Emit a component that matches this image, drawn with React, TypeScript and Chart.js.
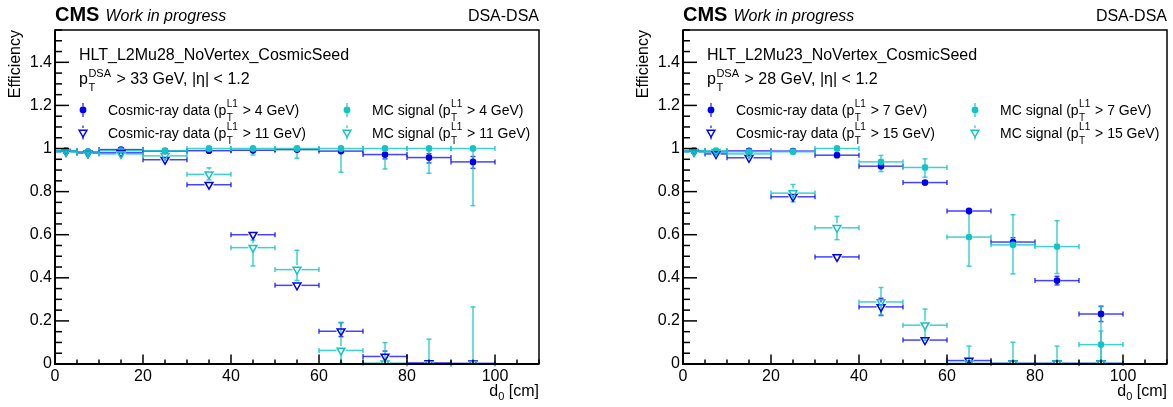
import React, { useEffect, useRef } from "react";
import { Chart, registerables } from "chart.js";

Chart.register(...registerables);

const FONT = "'Liberation Sans', Arial, Helvetica, sans-serif";

// ---------- binning (d0 in cm) ----------
const binCenters = [2.5, 7.5, 15, 25, 35, 45, 55, 65, 75, 85, 95];
const binLow = [0, 5, 10, 20, 30, 40, 50, 60, 70, 80, 90];
const binHigh = [5, 10, 20, 30, 40, 50, 60, 70, 80, 90, 100];

// ---------- ticks ----------
const xTickValues = [0, 20, 40, 60, 80, 100];
const xTickLabels = ["0", "20", "40", "60", "80", "100"];
const yTickValues = [0, 0.2, 0.4, 0.6, 0.8, 1.0, 1.2, 1.4];
const yTickLabels = ["0", "0.2", "0.4", "0.6", "0.8", "1", "1.2", "1.4"];

// ---------- left panel: HLT_L2Mu28 ----------
const leftCosmic4 = [0.99, 0.985, 0.995, 0.988, 0.99, 0.992, 0.995, 0.988, 0.972, 0.958, 0.938];
const leftCosmic4Lo = [0.005, 0.005, 0.005, 0.006, 0.006, 0.008, 0.01, 0.015, 0.02, 0.025, 0.03];
const leftCosmic4Hi = [0.004, 0.005, 0.004, 0.005, 0.005, 0.006, 0.004, 0.008, 0.012, 0.018, 0.025];

const leftMC4 = [0.99, 0.985, 0.99, 0.99, 1.0, 1.0, 1.0, 1.0, 1.0, 1.0, 1.0];
const leftMC4Lo = [0.005, 0.005, 0.005, 0.006, 0.005, 0.03, 0.045, 0.11, 0.095, 0.115, 0.265];
const leftMC4Hi = [0.004, 0.004, 0.004, 0.004, 0, 0, 0, 0, 0, 0, 0];

const leftCosmic11 = [0.985, 0.978, 0.98, 0.948, 0.832, 0.6, 0.365, 0.152, 0.035, 0.005, 0.003];
const leftCosmic11Lo = [0.005, 0.006, 0.006, 0.01, 0.012, 0.015, 0.02, 0.025, 0.015, 0.005, 0.003];
const leftCosmic11Hi = [0.005, 0.006, 0.006, 0.01, 0.012, 0.015, 0.02, 0.04, 0.025, 0.012, 0.01];

const leftMC11 = [0.985, 0.978, 0.975, 0.966, 0.88, 0.54, 0.438, 0.063, 0.004, 0.0, 0.0];
const leftMC11Lo = [0.005, 0.006, 0.006, 0.01, 0.025, 0.085, 0.05, 0.06, 0.004, 0, 0];
const leftMC11Hi = [0.005, 0.006, 0.006, 0.01, 0.03, 0.035, 0.09, 0.13, 0.095, 0.115, 0.265];

// ---------- right panel: HLT_L2Mu23 ----------
const rightCosmic7 = [0.99, 0.985, 0.989, 0.988, 0.969, 0.918, 0.842, 0.71, 0.566, 0.387, 0.232];
const rightCosmic7Lo = [0.005, 0.005, 0.005, 0.006, 0.008, 0.012, 0.012, 0.015, 0.02, 0.02, 0.035];
const rightCosmic7Hi = [0.004, 0.005, 0.005, 0.006, 0.008, 0.012, 0.012, 0.015, 0.02, 0.02, 0.035];

const rightMC7 = [0.99, 0.99, 0.985, 0.985, 1.0, 0.938, 0.912, 0.589, 0.553, 0.545, 0.09];
const rightMC7Lo = [0.005, 0.005, 0.006, 0.006, 0.005, 0.045, 0.045, 0.135, 0.135, 0.125, 0.09];
const rightMC7Hi = [0.004, 0.004, 0.005, 0.005, 0, 0.03, 0.04, 0.12, 0.14, 0.12, 0.18];

const rightCosmic15 = [0.985, 0.975, 0.957, 0.776, 0.497, 0.265, 0.111, 0.016, 0.003, 0.003, 0.003];
const rightCosmic15Lo = [0.005, 0.006, 0.008, 0.012, 0.01, 0.04, 0.012, 0.01, 0.003, 0.003, 0.003];
const rightCosmic15Hi = [0.005, 0.006, 0.008, 0.012, 0.01, 0.04, 0.012, 0.015, 0.005, 0.005, 0.005];

const rightMC15 = [0.985, 0.985, 0.975, 0.793, 0.632, 0.288, 0.18, 0.003, 0.003, 0.003, 0.003];
const rightMC15Lo = [0.005, 0.005, 0.008, 0.04, 0.055, 0.06, 0.07, 0.003, 0.003, 0.003, 0.003];
const rightMC15Hi = [0.005, 0.005, 0.008, 0.04, 0.053, 0.067, 0.075, 0.08, 0.098, 0.08, 0.15];

// ---------- styles ----------
const BLUE = "#0000f0";
const BLUE_LINE = "rgba(20,20,255,0.8)";
const CYAN = "#14c4c4";
const CYAN_LINE = "rgba(30,200,200,0.85)";

type Series = {
  values: number[];
  lo: number[];
  hi: number[];
  marker: "circle" | "triangle";
  color: string;
  line: string;
  legendBase: string;
  legendRest: string;
};

type Panel = {
  trigger: string;
  cut: string;
  series: Series[]; // order: cosmic loose, MC loose, cosmic tight, MC tight
};

const leftPanel: Panel = {
  trigger: "HLT_L2Mu28_NoVertex_CosmicSeed",
  cut: " > 33 GeV, |η| < 1.2",
  series: [
    { values: leftCosmic4, lo: leftCosmic4Lo, hi: leftCosmic4Hi, marker: "circle", color: BLUE, line: BLUE_LINE, legendBase: "Cosmic-ray data (p", legendRest: "> 4 GeV)" },
    { values: leftMC4, lo: leftMC4Lo, hi: leftMC4Hi, marker: "circle", color: CYAN, line: CYAN_LINE, legendBase: "MC signal (p", legendRest: "> 4 GeV)" },
    { values: leftCosmic11, lo: leftCosmic11Lo, hi: leftCosmic11Hi, marker: "triangle", color: BLUE, line: BLUE_LINE, legendBase: "Cosmic-ray data (p", legendRest: "> 11 GeV)" },
    { values: leftMC11, lo: leftMC11Lo, hi: leftMC11Hi, marker: "triangle", color: CYAN, line: CYAN_LINE, legendBase: "MC signal (p", legendRest: "> 11 GeV)" },
  ],
};

const rightPanel: Panel = {
  trigger: "HLT_L2Mu23_NoVertex_CosmicSeed",
  cut: " > 28 GeV, |η| < 1.2",
  series: [
    { values: rightCosmic7, lo: rightCosmic7Lo, hi: rightCosmic7Hi, marker: "circle", color: BLUE, line: BLUE_LINE, legendBase: "Cosmic-ray data (p", legendRest: "> 7 GeV)" },
    { values: rightMC7, lo: rightMC7Lo, hi: rightMC7Hi, marker: "circle", color: CYAN, line: CYAN_LINE, legendBase: "MC signal (p", legendRest: "> 7 GeV)" },
    { values: rightCosmic15, lo: rightCosmic15Lo, hi: rightCosmic15Hi, marker: "triangle", color: BLUE, line: BLUE_LINE, legendBase: "Cosmic-ray data (p", legendRest: "> 15 GeV)" },
    { values: rightMC15, lo: rightMC15Lo, hi: rightMC15Hi, marker: "triangle", color: CYAN, line: CYAN_LINE, legendBase: "MC signal (p", legendRest: "> 15 GeV)" },
  ],
};

const CIRCLE_R = 3.4;
const TRI_R = 4.5;

function seg(ctx: CanvasRenderingContext2D, x1: number, y1: number, x2: number, y2: number) {
  ctx.beginPath();
  ctx.moveTo(x1, y1);
  ctx.lineTo(x2, y2);
  ctx.stroke();
}

function drawMarker(ctx: CanvasRenderingContext2D, kind: string, x: number, y: number, color: string) {
  ctx.save();
  ctx.strokeStyle = color;
  ctx.fillStyle = color;
  ctx.lineWidth = 1.5;
  ctx.beginPath();
  if (kind === "circle") {
    ctx.arc(x, y, CIRCLE_R, 0, Math.PI * 2);
    ctx.fill();
  } else {
    const r = TRI_R;
    ctx.moveTo(x, y + r);
    ctx.lineTo(x - 0.866 * r, y - 0.5 * r);
    ctx.lineTo(x + 0.866 * r, y - 0.5 * r);
    ctx.closePath();
    ctx.stroke();
  }
  ctx.restore();
}

// text with stacked superscript / subscript after the base string
function drawScripted(
  ctx: CanvasRenderingContext2D,
  x: number,
  baseline: number,
  base: string,
  sup: string,
  sub: string,
  rest: string,
  size: number,
  scriptSize: number,
  supDy: number,
  subDy: number
) {
  ctx.textAlign = "left";
  ctx.textBaseline = "alphabetic";
  ctx.font = `${size}px ${FONT}`;
  ctx.fillText(base, x, baseline);
  x += ctx.measureText(base).width;
  ctx.font = `${scriptSize}px ${FONT}`;
  ctx.fillText(sup, x + 0.5, baseline - supDy);
  ctx.fillText(sub, x + 0.5, baseline + subDy);
  x += Math.max(ctx.measureText(sup).width, ctx.measureText(sub).width) + 1.5;
  ctx.font = `${size}px ${FONT}`;
  ctx.fillText(rest, x, baseline);
}

function makePlugin(panel: Panel) {
  return {
    id: "rootStyle",
    beforeDatasetsDraw(chart: any) {
      const ctx: CanvasRenderingContext2D = chart.ctx;
      const xs = chart.scales.x;
      const ys = chart.scales.y;
      panel.series.forEach((s) => {
        const gap = s.marker === "circle" ? CIRCLE_R : TRI_R;
        ctx.save();
        ctx.strokeStyle = s.line;
        ctx.lineWidth = 1.5;
        s.values.forEach((v, j) => {
          const px = xs.getPixelForValue(binCenters[j]);
          const py = ys.getPixelForValue(v);
          const pxl = xs.getPixelForValue(binLow[j]);
          const pxh = xs.getPixelForValue(binHigh[j]);
          const pyh = ys.getPixelForValue(v + s.hi[j]);
          const pyl = ys.getPixelForValue(Math.max(0, v - s.lo[j]));
          seg(ctx, pxl, py, px - gap, py);
          seg(ctx, px + gap, py, pxh, py);
          seg(ctx, pxl, py - 2.5, pxl, py + 2.5);
          seg(ctx, pxh, py - 2.5, pxh, py + 2.5);
          if (pyh < py - gap) {
            seg(ctx, px, pyh, px, py - gap);
            seg(ctx, px - 2.5, pyh, px + 2.5, pyh);
          }
          if (pyl > py + gap) {
            seg(ctx, px, py + gap, px, pyl);
            seg(ctx, px - 2.5, pyl, px + 2.5, pyl);
          }
        });
        ctx.restore();
      });
    },
    afterDraw(chart: any) {
      const ctx: CanvasRenderingContext2D = chart.ctx;
      const a = chart.chartArea;
      const xs = chart.scales.x;
      const ys = chart.scales.y;
      ctx.save();
      ctx.fillStyle = "#000";
      ctx.strokeStyle = "#000";

      // frame
      ctx.lineWidth = 1.5;
      ctx.strokeRect(a.left, a.top, a.right - a.left, a.bottom - a.top);
      ctx.lineWidth = 2;
      seg(ctx, a.left, a.top, a.left, a.bottom + 1);
      seg(ctx, a.left - 1, a.bottom, a.right, a.bottom);

      // y ticks (inward)
      ctx.lineWidth = 1.5;
      for (let k = 0; k <= 31; k++) {
        const v = k * 0.05;
        if (v > ys.max + 1e-9) break;
        const py = ys.getPixelForValue(v);
        const major = k % 4 === 0;
        seg(ctx, a.left, py, a.left + (major ? 14 : 7), py);
      }
      // x ticks (inward)
      for (let k = 0; k <= 22; k++) {
        const v = k * 5;
        if (v > xs.max + 1e-9) break;
        const px = xs.getPixelForValue(v);
        const major = k % 4 === 0;
        seg(ctx, px, a.bottom, px, a.bottom - (major ? 9.5 : 4.5));
      }

      // header
      ctx.textAlign = "left";
      ctx.textBaseline = "alphabetic";
      ctx.font = `bold 20px ${FONT}`;
      ctx.fillText("CMS", a.left, 20.5);
      const cmsW = ctx.measureText("CMS").width;
      ctx.font = `italic 16px ${FONT}`;
      ctx.fillText("Work in progress", a.left + cmsW + 6, 20.5);
      ctx.font = `16px ${FONT}`;
      ctx.textAlign = "right";
      ctx.fillText("DSA-DSA", a.right, 20.5);

      // y title
      ctx.save();
      ctx.translate(16, a.top);
      ctx.rotate(-Math.PI / 2);
      ctx.textAlign = "right";
      ctx.textBaseline = "middle";
      ctx.font = `16px ${FONT}`;
      ctx.fillText("Efficiency", 0, 0);
      ctx.restore();

      // x title: d_0 [cm]
      ctx.font = `16px ${FONT}`;
      const wd = ctx.measureText("d").width;
      const wr = ctx.measureText(" [cm]").width;
      ctx.font = `11px ${FONT}`;
      const w0 = ctx.measureText("0").width;
      const total = wd + w0 + wr;
      let tx = a.right - total;
      ctx.textAlign = "left";
      ctx.font = `16px ${FONT}`;
      ctx.fillText("d", tx, 396);
      tx += wd;
      ctx.font = `11px ${FONT}`;
      ctx.fillText("0", tx, 400);
      tx += w0;
      ctx.font = `16px ${FONT}`;
      ctx.fillText(" [cm]", tx, 396);

      // trigger + selection
      ctx.font = `16px ${FONT}`;
      ctx.fillText(panel.trigger, a.left + 24, 60);
      drawScripted(ctx, a.left + 24, 84, "p", "DSA", "T", panel.cut, 16, 11, 7, 7);

      // legend
      const rows = [110, 132.5];
      const cols = [a.left + 28, a.left + 292];
      const textX = [a.left + 53, a.left + 317];
      const order = [
        [0, 0, 0],
        [1, 0, 1],
        [2, 1, 0],
        [3, 1, 1],
      ];
      order.forEach(([si, r, c]) => {
        const s = panel.series[si];
        const y = rows[r];
        const x = cols[c];
        const gap = s.marker === "circle" ? CIRCLE_R : TRI_R;
        ctx.save();
        ctx.strokeStyle = s.line;
        ctx.lineWidth = 1.5;
        seg(ctx, x, y - 7, x, y - gap);
        seg(ctx, x, y + gap, x, y + 7);
        ctx.restore();
        drawMarker(ctx, s.marker, x, y, s.color);
        ctx.fillStyle = "#000";
        drawScripted(ctx, textX[c], y + 5, s.legendBase, "L1", "T", " " + s.legendRest, 14, 10, 8, 6);
      });
      ctx.restore();
    },
  };
}

function makeChart(canvas: HTMLCanvasElement, panel: Panel) {
  const datasets = panel.series.map((s, i) => ({
    label: s.legendBase + s.legendRest,
    data: binCenters.map((x, j) => ({ x, y: s.values[j] })),
    showLine: false,
    pointStyle: s.marker === "circle" ? "circle" : "triangle",
    pointRotation: s.marker === "circle" ? 0 : 180,
    pointRadius: s.marker === "circle" ? CIRCLE_R : TRI_R,
    pointBackgroundColor: s.marker === "circle" ? s.color : "rgba(0,0,0,0)",
    pointBorderColor: s.color,
    pointBorderWidth: s.marker === "circle" ? 0 : 1.5,
    order: -i,
  }));
  return new Chart(canvas, {
    type: "scatter",
    data: { datasets },
    options: {
      responsive: false,
      devicePixelRatio: 1,
      animation: false,
      events: [],
      layout: { padding: { top: 30, right: 6, left: 0, bottom: 0 } },
      plugins: { legend: { display: false }, tooltip: { enabled: false } },
      scales: {
        x: {
          type: "linear",
          min: 0,
          max: 110,
          afterBuildTicks: (s: any) => {
            s.ticks = xTickValues.map((v) => ({ value: v }));
          },
          afterFit: (s: any) => {
            s.height = 43;
          },
          grid: { display: false, drawTicks: false },
          border: { display: false },
          ticks: {
            autoSkip: false,
            maxRotation: 0,
            padding: 3,
            color: "#000",
            font: { family: FONT, size: 16 },
            callback: (_v: any, i: number) => xTickLabels[i],
          },
        },
        y: {
          type: "linear",
          min: 0,
          max: 1.55,
          afterBuildTicks: (s: any) => {
            s.ticks = yTickValues.map((v) => ({ value: v }));
          },
          afterFit: (s: any) => {
            s.width = 55;
          },
          grid: { display: false, drawTicks: false },
          border: { display: false },
          ticks: {
            autoSkip: false,
            padding: 3,
            color: "#000",
            font: { family: FONT, size: 16 },
            callback: (_v: any, i: number) => yTickLabels[i],
          },
        },
      },
    },
    plugins: [makePlugin(panel)],
  } as any);
}

export default function App() {
  const leftRef = useRef<HTMLCanvasElement>(null);
  const rightRef = useRef<HTMLCanvasElement>(null);
  useEffect(() => {
    const c1 = makeChart(leftRef.current as HTMLCanvasElement, leftPanel);
    const c2 = makeChart(rightRef.current as HTMLCanvasElement, rightPanel);
    return () => {
      c1.destroy();
      c2.destroy();
    };
  }, []);
  return (
    <div
      style={{
        position: "absolute",
        left: 0,
        top: 0,
        width: 1173,
        height: 407,
        background: "#fff",
        overflow: "hidden",
      }}
    >
      <canvas
        ref={leftRef}
        width={545}
        height={407}
        style={{ position: "absolute", left: 0, top: 0, width: 545, height: 407 }}
      />
      <canvas
        ref={rightRef}
        width={545}
        height={407}
        style={{ position: "absolute", left: 628, top: 0, width: 545, height: 407 }}
      />
    </div>
  );
}
